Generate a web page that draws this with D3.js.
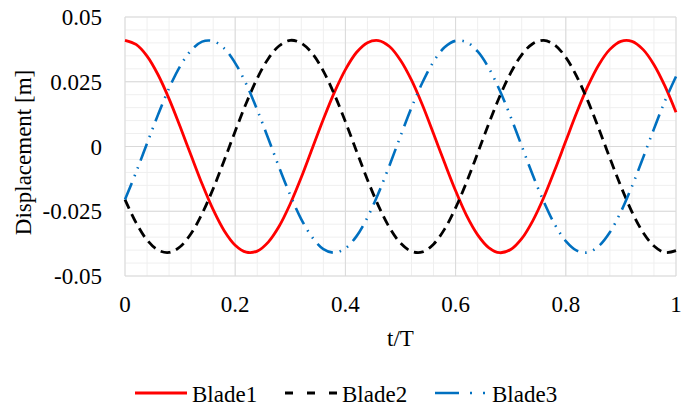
<!DOCTYPE html>
<meta charset="utf-8">
<title>Blade displacement</title>
<style>
body { margin: 0; background: #fff; }
text { font-family: "Liberation Serif", "Times New Roman", serif; fill: #000; }
</style>
<svg width="681" height="411"></svg>
<script src="https://d3js.org/d3.v7.min.js"></script>
<script>

// t/T samples, step 0.02
var tValues = d3.range(0, 51).map(function(k) { return +(k * 0.02).toFixed(2); });

var blade1 = [0.0410, 0.0394, 0.0349, 0.0277, 0.0184, 0.0077, -0.0035, -0.0145, -0.0244, -0.0325,
  -0.0381, -0.0408, -0.0404, -0.0369, -0.0307, -0.0221, -0.0119, -0.0007, 0.0105, 0.0209,
  0.0297, 0.0363, 0.0401, 0.0409, 0.0386, 0.0333, 0.0256, 0.0159, 0.0049, -0.0063,
  -0.0171, -0.0267, -0.0341, -0.0390, -0.0410, -0.0398, -0.0356, -0.0287, -0.0197, -0.0091,
  0.0021, 0.0132, 0.0233, 0.0316, 0.0375, 0.0406, 0.0406, 0.0375, 0.0316, 0.0233, 0.0132];

var blade2 = [-0.0205, -0.0294, -0.0361, -0.0400, -0.0409, -0.0387, -0.0336, -0.0259, -0.0163, -0.0054,
  0.0059, 0.0167, 0.0263, 0.0339, 0.0389, 0.0410, 0.0399, 0.0359, 0.0291, 0.0201,
  0.0096, -0.0017, -0.0128, -0.0229, -0.0313, -0.0373, -0.0405, -0.0407, -0.0377, -0.0319,
  -0.0237, -0.0137, -0.0026, 0.0087, 0.0193, 0.0284, 0.0354, 0.0397, 0.0410, 0.0392,
  0.0344, 0.0270, 0.0176, 0.0068, -0.0045, -0.0154, -0.0252, -0.0331, -0.0384, -0.0409, -0.0402];

var blade3 = [-0.0205, -0.0100, 0.0012, 0.0123, 0.0225, 0.0310, 0.0371, 0.0405, 0.0407, 0.0379,
  0.0322, 0.0241, 0.0141, 0.0031, -0.0082, -0.0188, -0.0281, -0.0351, -0.0396, -0.0410,
  -0.0393, -0.0347, -0.0274, -0.0180, -0.0073, 0.0040, 0.0150, 0.0248, 0.0328, 0.0383,
  0.0408, 0.0403, 0.0367, 0.0304, 0.0217, 0.0114, 0.0002, -0.0110, -0.0213, -0.0301,
  -0.0365, -0.0402, -0.0409, -0.0384, -0.0331, -0.0252, -0.0154, -0.0045, 0.0068, 0.0176, 0.0270];

var xTicks = [0, 0.2, 0.4, 0.6, 0.8, 1];
var yTicks = [-0.05, -0.025, 0, 0.025, 0.05];
var yTickLabels = ["-0.05", "-0.025", "0", "0.025", "0.05"];

var seriesNames = ["Blade1", "Blade2", "Blade3"];
var seriesColors = ["#ff0000", "#000000", "#0070c0"];
var seriesDash = [null, "10,6", "18,7,1.5,7,1.5,7"];
var legendDash = [null, "8,14", "24,11,2,11,2,11"];
var seriesWidth = [2.8, 2.8, 2.6];
var seriesData = [blade1, blade2, blade3];

var svg = d3.select("svg");
var pLeft = 125, pRight = 676, pTop = 17, pBottom = 276;

var x = d3.scaleLinear().domain([0, 1]).range([pLeft, pRight]);
var y = d3.scaleLinear().domain([-0.05, 0.05]).range([pBottom, pTop]);

// minor grid
var g = svg.append("g");
g.selectAll(".vminor").data(d3.range(0, 1.0001, 0.04)).enter().append("line")
    .attr("x1", function(d) { return x(d); }).attr("x2", function(d) { return x(d); })
    .attr("y1", pTop).attr("y2", pBottom)
    .style("stroke", "#efefef").style("stroke-width", 1);
g.selectAll(".hminor").data(d3.range(-0.05, 0.05001, 0.005)).enter().append("line")
    .attr("x1", pLeft).attr("x2", pRight)
    .attr("y1", function(d) { return y(d); }).attr("y2", function(d) { return y(d); })
    .style("stroke", "#efefef").style("stroke-width", 1);

// major grid
g.selectAll(".vmajor").data(xTicks).enter().append("line")
    .attr("x1", function(d) { return x(d); }).attr("x2", function(d) { return x(d); })
    .attr("y1", pTop).attr("y2", pBottom)
    .style("stroke", "#d9d9d9").style("stroke-width", 1);
g.selectAll(".hmajor").data(yTicks).enter().append("line")
    .attr("x1", pLeft).attr("x2", pRight)
    .attr("y1", function(d) { return y(d); }).attr("y2", function(d) { return y(d); })
    .style("stroke", "#d9d9d9").style("stroke-width", 1);

// tick labels
svg.selectAll(".ylab").data(yTicks).enter().append("text")
    .attr("x", 102).attr("y", function(d) { return y(d) + 8; })
    .attr("text-anchor", "end")
    .style("font-size", "23px")
    .text(function(d, i) { return yTickLabels[i]; });

svg.selectAll(".xlab").data(xTicks).enter().append("text")
    .attr("x", function(d) { return x(d); }).attr("y", 312)
    .attr("text-anchor", "middle")
    .style("font-size", "23px")
    .text(function(d) { return d; });

// axis titles
svg.append("text")
    .attr("x", (pLeft + pRight) / 2).attr("y", 346)
    .attr("text-anchor", "middle")
    .style("font-size", "23px")
    .text("t/T");

svg.append("text")
    .attr("transform", "translate(31," + ((pTop + pBottom) / 2 + 6) + ") rotate(-90)")
    .attr("text-anchor", "middle")
    .style("font-size", "23px")
    .text("Displacement [m]");

// series
var line = d3.line()
    .x(function(d, i) { return x(tValues[i]); })
    .y(function(d) { return y(d); })
    .curve(d3.curveCatmullRom);

seriesData.forEach(function(s, i) {
  svg.append("path")
      .datum(s)
      .attr("d", line)
      .style("fill", "none")
      .style("stroke", seriesColors[i])
      .style("stroke-width", seriesWidth[i])
      .style("stroke-dasharray", seriesDash[i]);
});

// legend
var legendX = [135, 285, 435];
var legend = svg.selectAll(".legend").data(seriesNames).enter().append("g")
    .attr("transform", function(d, i) { return "translate(" + legendX[i] + ",393)"; });
legend.append("line")
    .attr("x1", 0).attr("x2", 52).attr("y1", 0).attr("y2", 0)
    .style("stroke", function(d, i) { return seriesColors[i]; })
    .style("stroke-width", function(d, i) { return seriesWidth[i]; })
    .style("stroke-dasharray", function(d, i) { return legendDash[i]; });
legend.append("text")
    .attr("x", 57).attr("y", 9)
    .style("font-size", "23px")
    .text(function(d) { return d; });

</script>
